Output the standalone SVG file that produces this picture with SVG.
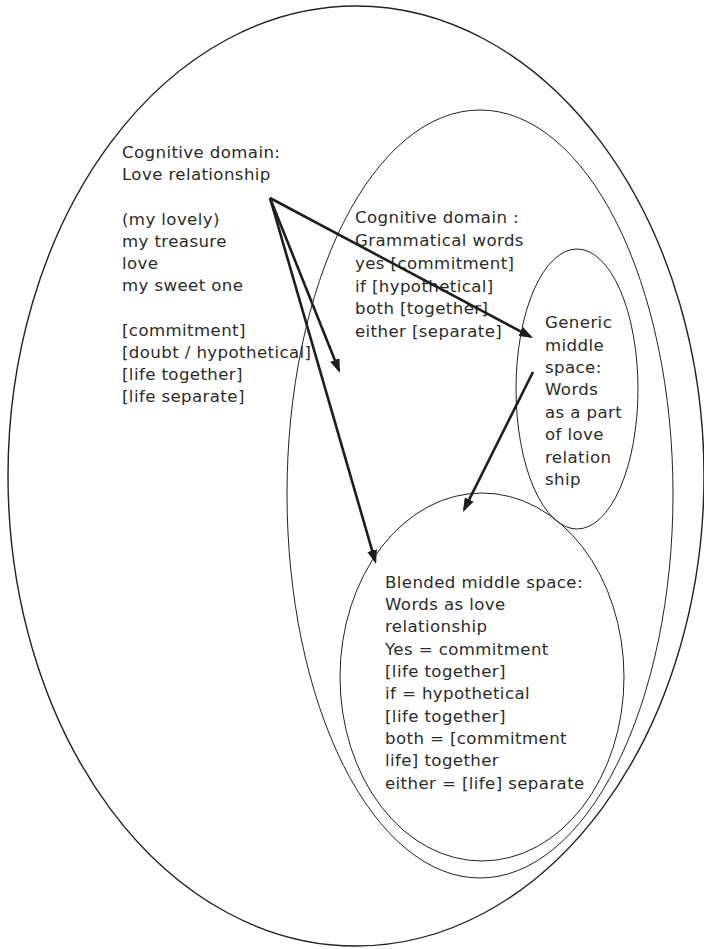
<svg xmlns="http://www.w3.org/2000/svg" width="704" height="949" viewBox="0 0 704 949">
  <style>
    .bg { fill: #ffffff; }
    .ell { fill: none; stroke: #222222; stroke-width: 1; }
    .outer { stroke-width: 1.4; }
    .lbl { font-family: "DejaVu Sans", "Liberation Sans", sans-serif; font-size: 16.6px; letter-spacing: 0.4px; fill: #2b2b2b; }
    .arrow { stroke: #1e1e1e; stroke-width: 2.6; fill: none; marker-end: url(#head); }
  </style>
  <defs>
    <marker id="head" viewBox="0 0 14 10" refX="11" refY="5" markerUnits="userSpaceOnUse" markerWidth="14" markerHeight="10" orient="auto">
      <path d="M0,0 L14,5 L0,10 z" fill="#1e1e1e"/>
    </marker>
  </defs>
  <rect class="bg" x="0" y="0" width="704" height="949"/>

  <g id="love-domain">
    <ellipse class="ell outer" cx="356" cy="476" rx="348" ry="470"/>
    <text class="lbl" x="122">
      <tspan x="122" y="158">Cognitive domain:</tspan>
      <tspan x="122" y="180">Love relationship</tspan>
      <tspan x="122" y="225">(my lovely)</tspan>
      <tspan x="122" y="247">my treasure</tspan>
      <tspan x="122" y="269">love</tspan>
      <tspan x="122" y="291">my sweet one</tspan>
      <tspan x="122" y="336">[commitment]</tspan>
      <tspan x="122" y="358">[doubt / hypothetical]</tspan>
      <tspan x="122" y="380">[life together]</tspan>
      <tspan x="122" y="402">[life separate]</tspan>
    </text>
  </g>

  <g id="grammar-domain">
    <ellipse class="ell" cx="480" cy="494" rx="193" ry="384"/>
    <text class="lbl">
      <tspan x="355" y="223">Cognitive domain :</tspan>
      <tspan x="355" y="246">Grammatical words</tspan>
      <tspan x="355" y="269">yes [commitment]</tspan>
      <tspan x="355" y="292">if [hypothetical]</tspan>
      <tspan x="355" y="314">both [together]</tspan>
      <tspan x="355" y="337">either [separate]</tspan>
    </text>
  </g>

  <g id="generic-space">
    <ellipse class="ell" cx="577" cy="389" rx="61" ry="140"/>
    <text class="lbl">
      <tspan x="545" y="328">Generic</tspan>
      <tspan x="545" y="351">middle</tspan>
      <tspan x="545" y="373">space:</tspan>
      <tspan x="545" y="395">Words</tspan>
      <tspan x="545" y="418">as a part</tspan>
      <tspan x="545" y="440">of love</tspan>
      <tspan x="545" y="463">relation</tspan>
      <tspan x="545" y="485">ship</tspan>
    </text>
  </g>

  <g id="blended-space">
    <ellipse class="ell" cx="482" cy="677" rx="142" ry="184"/>
    <text class="lbl">
      <tspan x="385" y="588">Blended middle space:</tspan>
      <tspan x="385" y="610">Words as love</tspan>
      <tspan x="385" y="632">relationship</tspan>
      <tspan x="385" y="655">Yes = commitment</tspan>
      <tspan x="385" y="677">[life together]</tspan>
      <tspan x="385" y="699">if = hypothetical</tspan>
      <tspan x="385" y="722">[life together]</tspan>
      <tspan x="385" y="744">both = [commitment</tspan>
      <tspan x="385" y="766">life] together</tspan>
      <tspan x="385" y="789">either = [life] separate</tspan>
    </text>
  </g>

  <g id="connectors">
    <line class="arrow" x1="270" y1="198" x2="338.9" y2="370.2"/>
    <line class="arrow" x1="270" y1="198" x2="375.2" y2="561.1"/>
    <line class="arrow" x1="270" y1="198" x2="530.4" y2="336.6"/>
    <line class="arrow" x1="533" y1="372" x2="464.3" y2="509.3"/>
  </g>
</svg>
